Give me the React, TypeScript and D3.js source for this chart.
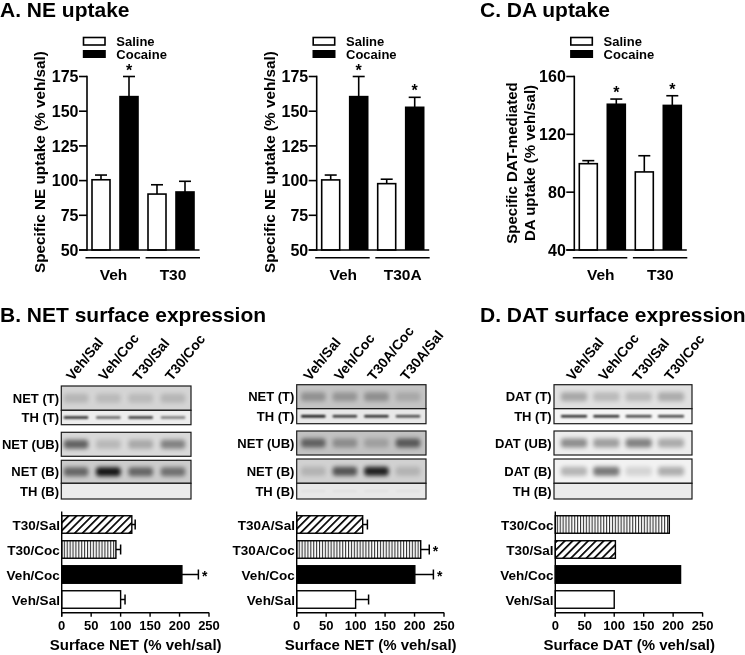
import React from "react";
import * as d3 from "d3";

const FONT = "'Liberation Sans', Arial, sans-serif";

// ---- uptake data
const uptakeBars = ["VehSal", "VehCoc", "T30Sal", "T30Coc"];
const neTicks = [50, 75, 100, 125, 150, 175];
const daTicks = [40, 80, 120, 160];
const a1Values = [100.6, 160.5, 90.3, 91.8];
const a1Errors = [104, 175, 97, 99.5];
const a1Stars = [false, true, false, false];
const a2Values = [100.5, 160.5, 97.8, 152.8];
const a2Errors = [104, 175, 101, 160];
const a2Stars = [false, true, false, true];
const cValues = [99.7, 140.8, 94, 140];
const cErrors = [101.8, 144.4, 105.2, 146.7];
const cStars = [false, true, false, true];

// ---- surface expression data (listed top to bottom)
const b1Cats = ["T30/Sal", "T30/Coc", "Veh/Coc", "Veh/Sal"];
const b1Values = [119, 92, 204, 100];
const b1Errors = [124.7, 100, 232, 107.5];
const b1Stars = [false, false, true, false];
const b2Cats = ["T30A/Sal", "T30A/Coc", "Veh/Coc", "Veh/Sal"];
const b2Values = [112, 210.5, 200.5, 100];
const b2Errors = [120, 225, 232, 122];
const b2Stars = [false, true, true, false];
const dCats = ["T30/Coc", "T30/Sal", "Veh/Coc", "Veh/Sal"];
const dValues = [193.5, 102, 212.6, 100];
const dFills = ["v", "d", "k", "w"];
const b1Fills = ["d", "v", "k", "w"];
const b2Fills = ["d", "v", "k", "w"];
const surfaceTicks = [0, 50, 100, 150, 200, 250];

// ---- blots: lane labels, row labels, band darkness per lane, background darkness
const b1Lanes = ["Veh/Sal", "Veh/Coc", "T30/Sal", "T30/Coc"];
const b2Lanes = ["Veh/Sal", "Veh/Coc", "T30A/Coc", "T30A/Sal"];
const dLanes = ["Veh/Sal", "Veh/Coc", "T30/Sal", "T30/Coc"];
const netRows = ["NET (T)", "TH (T)", "NET (UB)", "NET (B)", "TH (B)"];
const datRows = ["DAT (T)", "TH (T)", "DAT (UB)", "DAT (B)", "TH (B)"];
const b1Bands = [[0.14, 0.12, 0.12, 0.14], [0.85, 0.6, 0.8, 0.5], [0.55, 0.15, 0.22, 0.4], [0.5, 0.9, 0.5, 0.45], [0, 0, 0, 0]];
const b1Bg = [0.17, 0.07, 0.15, 0.2, 0.08];
const b2Bands = [[0.26, 0.24, 0.27, 0.14], [0.95, 0.8, 0.85, 0.7], [0.5, 0.28, 0.18, 0.55], [0.14, 0.6, 0.85, 0.14], [0.03, 0.03, 0.03, 0.03]];
const b2Bg = [0.23, 0.09, 0.24, 0.18, 0.09];
const dBands = [[0.25, 0.17, 0.17, 0.23], [0.85, 0.85, 0.75, 0.75], [0.4, 0.33, 0.45, 0.28], [0.25, 0.5, 0.12, 0.28], [0, 0, 0, 0]];
const dBg = [0.12, 0.04, 0.07, 0.05, 0.08];

const T = (p: any) => <text fontFamily={FONT} fontWeight="bold" fill="#000" {...p} />;

function Uptake({ ox, ticks, domain, groups, values, errors, stars, ylabel }: any) {
  const x = d3.scaleBand<string>().domain(uptakeBars).range([ox, ox + 112]).paddingInner(0.3).paddingOuter(0.15);
  const y = d3.scaleLinear().domain(domain).range([250, 76.5]);
  const bw = x.bandwidth();
  return (
    <g>
      <rect x={ox - 3.5} y={37.5} width={21.5} height={7.5} fill="#fff" stroke="#000" strokeWidth={1.6} />
      <rect x={ox - 4.2} y={50} width={23} height={8} fill="#000" />
      <T x={ox + 29.3} y={46} fontSize={13}>Saline</T>
      <T x={ox + 29.3} y={59} fontSize={13}>Cocaine</T>
      {uptakeBars.map((b, i) => {
        const cx = x(b)! + bw / 2;
        return (
          <g key={b}>
            <line x1={cx} x2={cx} y1={y(values[i])} y2={y(errors[i])} stroke="#000" strokeWidth={1.6} />
            <line x1={cx - 6} x2={cx + 6} y1={y(errors[i])} y2={y(errors[i])} stroke="#000" strokeWidth={1.6} />
            {i % 2 === 0 ? (
              <rect x={x(b)! + 0.8} y={y(values[i])} width={bw - 1.6} height={250 - y(values[i])} fill="#fff" stroke="#000" strokeWidth={1.6} />
            ) : (
              <rect x={x(b)!} y={y(values[i]) - 0.8} width={bw} height={250 - y(values[i]) + 0.8} fill="#000" />
            )}
            {stars[i] && <T x={cx} y={y(errors[i]) - 1} fontSize={16} textAnchor="middle">*</T>}
          </g>
        );
      })}
      <line x1={ox} x2={ox} y1={75.7} y2={250.8} stroke="#000" strokeWidth={1.6} />
      <line x1={ox - 8} x2={ox + 112.5} y1={250} y2={250} stroke="#000" strokeWidth={1.6} />
      {ticks.map((t: number) => (
        <g key={t}>
          <line x1={ox - 8} x2={ox} y1={y(t)} y2={y(t)} stroke="#000" strokeWidth={1.6} />
          <T x={ox - 8.5} y={y(t) + 5.7} fontSize={16} textAnchor="end">{t}</T>
        </g>
      ))}
      <line x1={ox - 1.5} x2={ox + 53} y1={257.8} y2={257.8} stroke="#000" strokeWidth={1.6} />
      <line x1={ox + 58.6} x2={ox + 113} y1={257.8} y2={257.8} stroke="#000" strokeWidth={1.6} />
      <T x={ox + 26.5} y={279.5} fontSize={15.5} textAnchor="middle">{groups[0]}</T>
      <T x={ox + 86} y={279.5} fontSize={15.5} textAnchor="middle">{groups[1]}</T>
      {ylabel.map((l: any) => (
        <T key={l.t} transform={`translate(${ox + l.dx},${l.cy}) rotate(-90)`} fontSize={l.fs} textAnchor="middle">{l.t}</T>
      ))}
    </g>
  );
}

function Blot({ id, left, right, lanes, laneRange, labelX, rows, edges, bands, bg }: any) {
  const lane = d3.scalePoint<string>().domain(lanes).range(laneRange);
  const laneWidth = (right - left) * 0.19;
  return (
    <g>
      {lanes.map((l: string, i: number) => (
        <T key={l + i} transform={`translate(${labelX[i]},381.5) rotate(-51)`} fontSize={14}>{l}</T>
      ))}
      {rows.map((r: string, i: number) => {
        const [y0, y1] = edges[i];
        const c = (y0 + y1) / 2;
        const thin = r.startsWith("TH");
        return (
          <g key={r + i}>
            <clipPath id={`${id}-${i}`}><rect x={left} y={y0} width={right - left} height={y1 - y0} /></clipPath>
            <g clipPath={`url(#${id}-${i})`}>
              <rect x={left} y={y0} width={right - left} height={y1 - y0} fill="#fff" />
              <rect x={left} y={y0} width={right - left} height={y1 - y0} fill="#000" opacity={bg[i]} />
              {bands[i].map((v: number, j: number) => v > 0 && (
                <rect key={j} x={lane(lanes[j])! - laneWidth / 2} width={laneWidth}
                  y={c - (thin ? 1.2 : 4.5)} height={thin ? 2.4 : 9} rx={thin ? 1 : 3}
                  fill="#000" opacity={v} filter={thin ? "url(#blurThin)" : "url(#blurWide)"} />
              ))}
            </g>
            <rect x={left} y={y0} width={right - left} height={y1 - y0} fill="none" stroke="#1a1a1a" strokeWidth={1.2} />
            <T x={left - 2.3} y={c + 4.6} fontSize={13} textAnchor="end">{r}</T>
          </g>
        );
      })}
    </g>
  );
}

function Surface({ ox, cats, values, errors, stars, fills, xlabel }: any) {
  const x = d3.scaleLinear().domain([0, 250]).range([ox, ox + 147.3]);
  const y = d3.scaleBand<string>().domain(cats).range([512, 612]).paddingInner(0.3).paddingOuter(0.15);
  const bh = y.bandwidth();
  const fillOf = (f: string) => (f === "d" ? "url(#diag)" : f === "v" ? "url(#vert)" : f === "k" ? "#000" : "#fff");
  return (
    <g>
      {cats.map((c: string, i: number) => {
        const cy = y(c)! + bh / 2;
        return (
          <g key={c}>
            {errors && (
              <g>
                <line x1={x(values[i])} x2={x(errors[i])} y1={cy} y2={cy} stroke="#000" strokeWidth={1.5} />
                <line x1={x(errors[i])} x2={x(errors[i])} y1={cy - 5} y2={cy + 5} stroke="#000" strokeWidth={1.5} />
              </g>
            )}
            <rect x={x(0)} y={y(c)!} width={x(values[i]) - x(0)} height={bh} fill={fillOf(fills[i])} stroke="#000" strokeWidth={1.4} />
            {stars && stars[i] && <T x={x(errors[i]) + 3.5} y={cy + 6} fontSize={14}>*</T>}
            <T x={ox - 1.8} y={cy + 5} fontSize={13.5} textAnchor="end">{c}</T>
          </g>
        );
      })}
      <line x1={ox} x2={ox} y1={511.5} y2={616.5} stroke="#000" strokeWidth={1.4} />
      <line x1={ox} x2={ox + 147.5} y1={612.7} y2={612.7} stroke="#000" strokeWidth={1.4} />
      {surfaceTicks.map((t) => (
        <g key={t}>
          <line x1={x(t)} x2={x(t)} y1={612.7} y2={616.7} stroke="#000" strokeWidth={1.4} />
          <T x={x(t)} y={629.5} fontSize={13} textAnchor="middle">{t}</T>
        </g>
      ))}
      <T x={ox + 74} y={650} fontSize={15} textAnchor="middle">{xlabel}</T>
    </g>
  );
}

const edges1 = [[386, 410.3], [410.3, 424.7], [432.3, 456.3], [460.3, 483.3], [483.3, 499]];
const edges2 = [[384.7, 408.7], [408.7, 423.7], [431, 455], [459, 483.3], [483.3, 499]];

export default function App() {
  return (
    <svg width={745} height={655} viewBox="0 0 745 655" style={{ position: "absolute", left: 0, top: 0, background: "#fff", filter: "blur(0.3px)" }}>
      <defs>
        <pattern id="diag" width={5.5} height={5.5} patternUnits="userSpaceOnUse" patternTransform="rotate(45)">
          <rect width={5.5} height={5.5} fill="#fff" />
          <rect width={1.7} height={5.5} fill="#000" />
        </pattern>
        <pattern id="vert" width={2.9} height={4} patternUnits="userSpaceOnUse">
          <rect width={2.9} height={4} fill="#fff" />
          <rect width={1.1} height={4} fill="#333" />
        </pattern>
        <filter id="blurWide" x="-30%" y="-80%" width="160%" height="260%"><feGaussianBlur stdDeviation="2.2" /></filter>
        <filter id="blurThin" x="-20%" y="-200%" width="140%" height="500%"><feGaussianBlur stdDeviation="0.8" /></filter>
      </defs>

      <T x={0} y={16.5} fontSize={21}>A. NE uptake</T>
      <T x={480} y={16.5} fontSize={21}>C. DA uptake</T>
      <T x={0} y={321.5} fontSize={21}>B. NET surface expression</T>
      <T x={480} y={321.5} fontSize={21}>D. DAT surface expression</T>

      <Uptake ox={87} ticks={neTicks} domain={[50, 175]} groups={["Veh", "T30"]} values={a1Values} errors={a1Errors} stars={a1Stars}
        ylabel={[{ t: "Specific NE uptake (% veh/sal)", dx: -42, cy: 162, fs: 15.3 }]} />
      <Uptake ox={316.7} ticks={neTicks} domain={[50, 175]} groups={["Veh", "T30A"]} values={a2Values} errors={a2Errors} stars={a2Stars}
        ylabel={[{ t: "Specific NE uptake (% veh/sal)", dx: -41.7, cy: 162, fs: 15.3 }]} />
      <Uptake ox={574.3} ticks={daTicks} domain={[40, 160]} groups={["Veh", "T30"]} values={cValues} errors={cErrors} stars={cStars}
        ylabel={[{ t: "Specific DAT-mediated", dx: -57.5, cy: 163, fs: 15 }, { t: "DA uptake (% veh/sal)", dx: -39.5, cy: 163, fs: 15 }]} />

      <Blot id="b1" left={61.3} right={191} lanes={b1Lanes} laneRange={[76, 173]} labelX={[72.7, 105, 139.3, 171.7]} rows={netRows} edges={edges1} bands={b1Bands} bg={b1Bg} />
      <Blot id="b2" left={296.7} right={426} lanes={b2Lanes} laneRange={[313.3, 408]} labelX={[310, 340.7, 374, 407]} rows={netRows} edges={edges2} bands={b2Bands} bg={b2Bg} />
      <Blot id="d" left={554} right={692} lanes={dLanes} laneRange={[574, 671]} labelX={[573, 605, 639, 671]} rows={datRows} edges={edges2} bands={dBands} bg={dBg} />

      <Surface ox={61.7} cats={b1Cats} values={b1Values} errors={b1Errors} stars={b1Stars} fills={b1Fills} xlabel="Surface NET (% veh/sal)" />
      <Surface ox={296.7} cats={b2Cats} values={b2Values} errors={b2Errors} stars={b2Stars} fills={b2Fills} xlabel="Surface NET (% veh/sal)" />
      <Surface ox={555.3} cats={dCats} values={dValues} fills={dFills} xlabel="Surface DAT (% veh/sal)" />
    </svg>
  );
}
